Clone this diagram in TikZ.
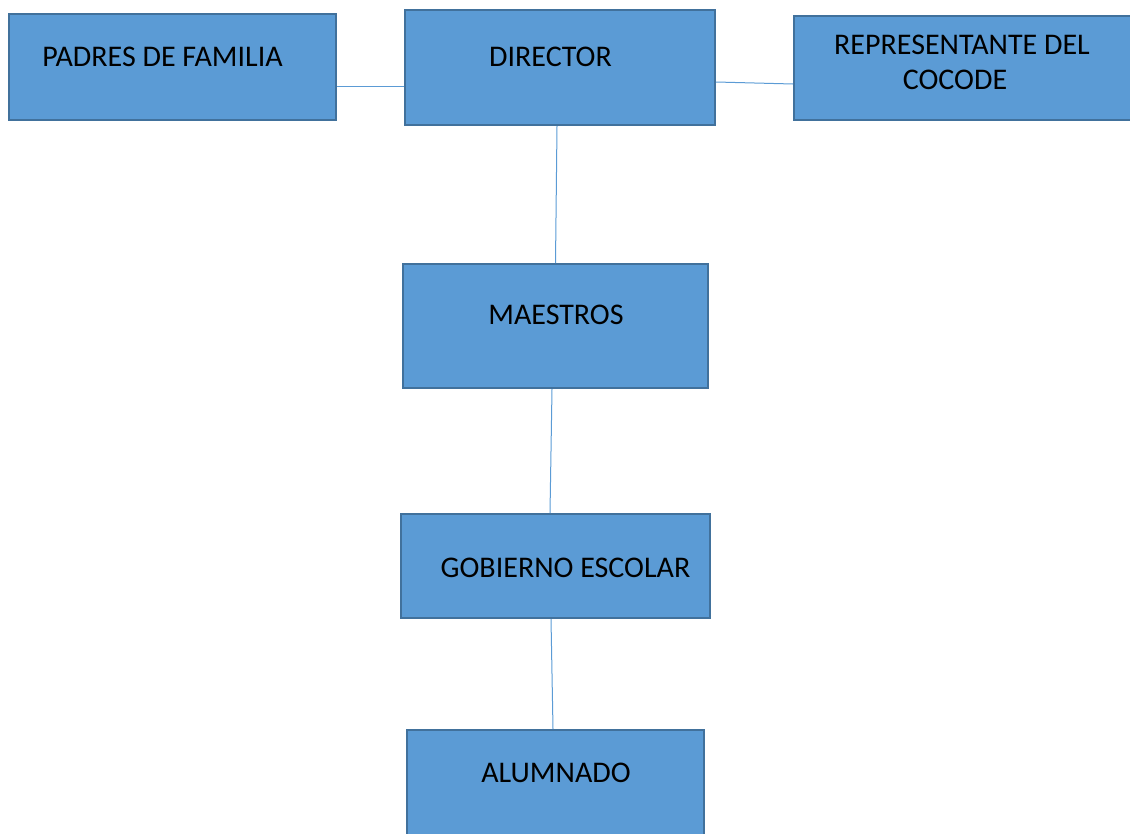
\documentclass[tikz,border=0pt]{standalone}
\usepackage{fontspec}
\setmainfont{Carlito}
\definecolor{azul}{HTML}{5B9BD5}
\definecolor{borde}{HTML}{41719C}

\begin{document}
\begin{tikzpicture}[x=1pt,y=-1pt,
    caja/.style={draw=borde,fill=azul,line width=2pt,inner sep=0pt},
    texto/.style={inner sep=0pt,font=\fontsize{30}{35}\selectfont,align=center},
    enlace/.style={draw=azul,line width=1pt}]
    \useasboundingbox (0,0) rectangle (1130,833);

    % cajas
    \node[caja,minimum width=327pt,minimum height=106pt] (padres) at (172.5,67) {};
    \node[caja,minimum width=310pt,minimum height=115pt] (director) at (560,67.5) {};
    \node[caja,minimum width=345pt,minimum height=104pt] (cocode) at (966.5,68) {};
    \node[caja,minimum width=305pt,minimum height=124pt] (maestros) at (555.5,326) {};
    \node[caja,minimum width=309pt,minimum height=104pt] (gobierno) at (555.5,566) {};
    \node[caja,minimum width=297pt,minimum height=119pt] (alumnado) at (555.5,789.5) {};

    % textos
    \node[texto] (t-padres) at (162.5,57) {PADRES DE FAMILIA};
    \node[texto] (t-director) at (550.5,57) {DIRECTOR};
    \node[texto] (t-cocode) at (962,62.5) {REPRESENTANTE DEL\\COCODE\hspace*{14pt}};
    \node[texto] (t-maestros) at (556,315) {MAESTROS};
    \node[texto] (t-gobierno) at (565.5,568) {GOBIERNO ESCOLAR};
    \node[texto] (t-alumnado) at (556,773) {ALUMNADO};

    % enlaces
    \draw[enlace] ([yshift=-19pt]padres.east) -- ([yshift=-18.5pt]director.west);
    \draw[enlace] ([yshift=-14.5pt]director.east) -- ([yshift=-16pt]cocode.west);
    \draw[enlace] ([xshift=-3pt]director.south) -- (maestros.north);
    \draw[enlace] ([xshift=-3.5pt]maestros.south) -- ([xshift=-5.5pt]gobierno.north);
    \draw[enlace] ([xshift=-4.5pt]gobierno.south) -- ([xshift=-2.5pt]alumnado.north);
\end{tikzpicture}
\end{document}
